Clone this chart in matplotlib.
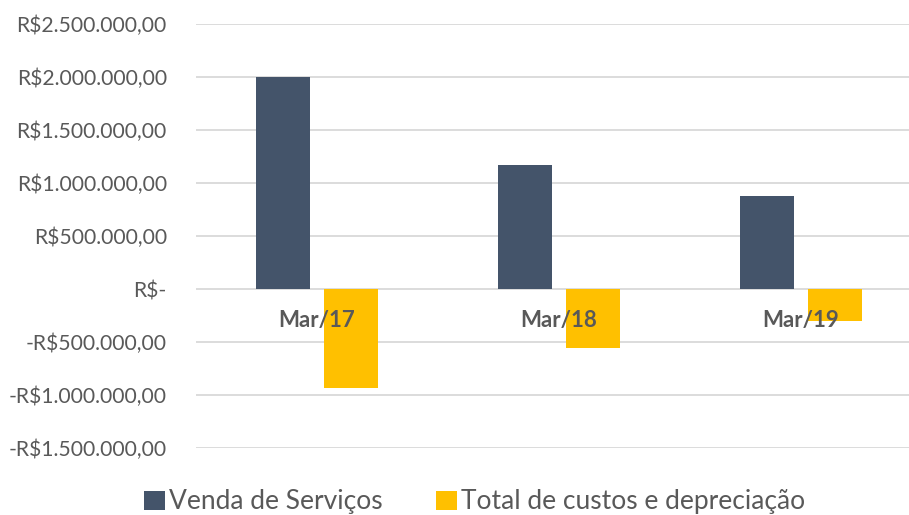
import numpy as np
import matplotlib.pyplot as plt
from matplotlib.ticker import FuncFormatter

# Dados (R$)
categorias = ['Mar/17', 'Mar/18', 'Mar/19']
venda_servicos = [2000000, 1168000, 877000]
custos_depreciacao = [-932000, -553000, -300000]

yticks = np.arange(-1500000, 2500001, 500000)


def fmt_real(v, pos=None):
    if v == 0:
        return 'R$-'
    s = f'{abs(v):,.2f}'.replace(',', 'X').replace('.', ',').replace('X', '.')
    return ('-' if v < 0 else '') + 'R$' + s


plt.rcParams.update({
    'font.family': ['Lato', 'DejaVu Sans'],
    'text.color': '#595959',
    'axes.labelcolor': '#595959',
    'xtick.color': '#595959',
    'ytick.color': '#595959',
})

fig = plt.figure(figsize=(9.09, 5.15), dpi=100)
# a área do gráfico original ultrapassa um pouco a borda direita (recorte)
ax = fig.add_axes([0.2156, 0.130, 0.7987, 0.823])

x = np.arange(len(categorias))
w = 0.223
gap = 0.058
ax.bar(x - (w + gap) / 2, venda_servicos, w, color='#44546A',
       label='Venda de Serviços', zorder=3)
ax.bar(x + (w + gap) / 2, custos_depreciacao, w, color='#FFC000',
       label='Total de custos e depreciação', zorder=3)

ax.set_xlim(-0.5, 2.5)
ax.set_ylim(-1500000, 2500000)
ax.set_yticks(yticks)
ax.yaxis.set_major_formatter(FuncFormatter(fmt_real))
ax.tick_params(axis='y', length=0, pad=21, labelsize=15.2)

# rótulos das categorias junto ao eixo zero, por cima das barras
ax.spines['bottom'].set_position(('data', 0))
ax.set_xticks(x)
ax.set_xticklabels(categorias, fontweight='bold')
ax.tick_params(axis='x', length=0, pad=15, labelsize=16)

for s in ax.spines.values():
    s.set_visible(False)
ax.grid(axis='y', color='#d9d9d9', linewidth=1.3, zorder=0)
ax.set_axisbelow(True)
ax.xaxis.set_zorder(5)

fig.legend(loc='lower center', bbox_to_anchor=(0.522, -0.045), ncol=2,
           frameon=False, fontsize=19, handlelength=0.8,
           handleheight=0.75, handletextpad=0.15, columnspacing=2.0)

fig.savefig('out.png', dpi=100)
